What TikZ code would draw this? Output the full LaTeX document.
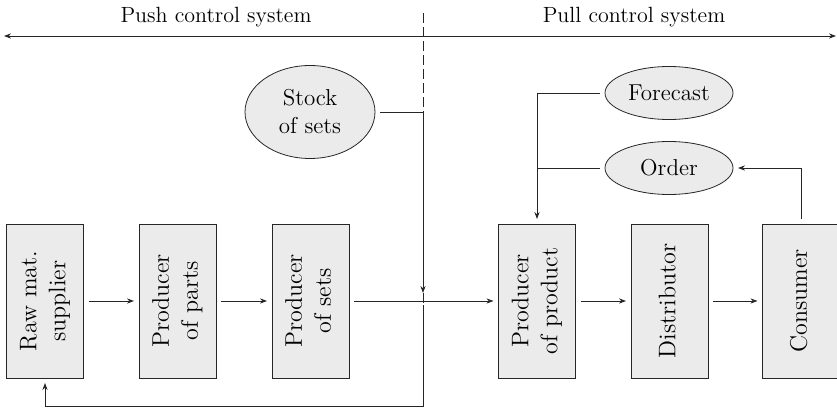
\documentclass[tikz,border=0pt]{standalone}
\usepackage{graphicx}
\usepackage{tikz}
\usetikzlibrary{arrows.meta}
\usetikzlibrary{shapes}

\newcommand{\stagetext}[1]{\rotatebox{90}{\fontsize{12}{14.5}\selectfont\begin{tabular}{@{}c@{}}#1\end{tabular}}}

\begin{document}
\begin{tikzpicture}[x=0.5pt,y=0.5pt,
    font=\fontsize{11.5}{14}\selectfont,
    stage/.style={draw=black!85,fill=black!8,minimum width=38.5pt,minimum height=77pt,inner sep=0pt,outer sep=2.5pt},
    info/.style={ellipse,draw=black!85,fill=black!8,inner sep=0pt,outer sep=2.5pt,align=center},
    side/.style={font=\fontsize{11}{13}\selectfont},
    flow/.style={draw=black!85,-{Stealth[length=3.5pt,width=2.6pt]}}]
    \useasboundingbox (0,0) rectangle (837,408);

    % upper band
    \node[side] (push) at (216,391) {Push control system};
    \node[side] (pull) at (634,391) {Pull control system};
    \coordinate (lend) at (4,372);
    \coordinate (rend) at (836,372);
    \draw[black!85,{Stealth[length=3.5pt,width=2.6pt]}-{Stealth[length=3.5pt,width=2.6pt]}] (lend) -- (rend);
    \coordinate (dtop) at (423,395);
    \coordinate (dbot) at (423,101);
    \draw[black!85,dash pattern=on 5pt off 2pt] (dtop) -- (dbot);

    % stages
    \node[stage] (raw) at (45,107) {\stagetext{Raw mat.\\supplier}};
    \node[stage] (parts) at (177.5,107) {\stagetext{Producer\\of parts}};
    \node[stage] (sets) at (310.5,107) {\stagetext{Producer\\of sets}};
    \node[stage] (product) at (537,107) {\stagetext{Producer\\of product}};
    \node[stage] (distr) at (669.5,107) {\stagetext{Distributor}};
    \node[stage] (cons) at (801,107) {\stagetext{Consumer}};

    % information
    \node[info,minimum width=65pt,minimum height=46.5pt] (stock) at (310,296) {Stock\\of sets};
    \node[info,minimum width=64pt,minimum height=26.5pt] (forecast) at (669,315) {Forecast};
    \node[info,minimum width=64pt,minimum height=26.5pt] (order) at (669,240) {Order};

    \draw[flow] (raw) -- (parts);
    \draw[flow] (parts) -- (sets);
    \draw[flow] (sets) -- (product);
    \draw[flow] (product) -- (distr);
    \draw[flow] (distr) -- (cons);

    \coordinate (sj) at (423,296);
    \coordinate (sdown) at (423,115);
    \draw[flow] (stock) -- (sj) -- (sdown);

    \coordinate (fb1) at (423,103);
    \coordinate (fb2) at (423,2);
    \coordinate (fb3) at (45,2);
    \draw[flow] (fb1) -- (fb2) -- (fb3) -- (raw);

    \coordinate (fc) at (537,315);
    \coordinate (oc) at (537,240);
    \draw[flow] (forecast) -- (fc) -- (product);
    \draw[black!85] (order) -- (oc);

    \coordinate (cc) at (801,240);
    \draw[flow] (cons) -- (cc) -- (order);
\end{tikzpicture}
\end{document}
